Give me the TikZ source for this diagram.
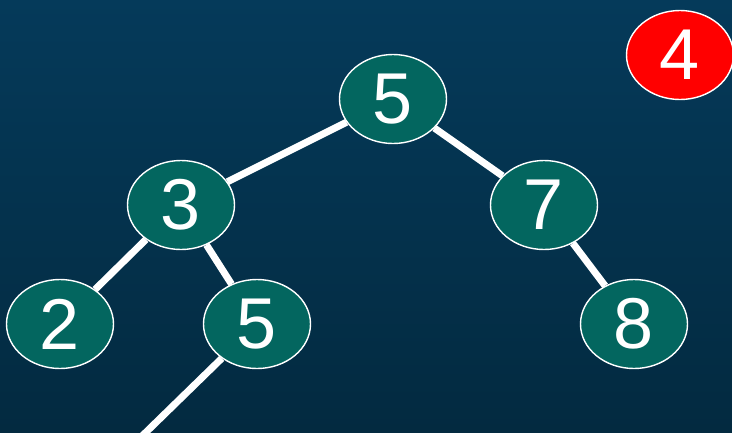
\documentclass[tikz,border=0pt]{standalone}
\usepackage{fontspec}
\setmainfont{Liberation Sans}
\usepackage{xcolor}
\usepackage{tikz}
\usetikzlibrary{positioning,shapes.geometric}
\definecolor{BgTop}{RGB}{5,58,90}
\definecolor{BgBottom}{RGB}{3,42,64}

\begin{document}
\begin{tikzpicture}[x=1pt,y=-1pt]
	\definecolor{bstteal}{RGB}{3,102,95}
	\definecolor{bstred}{RGB}{255,0,0}
	\tikzset{
		bstnode/.style={
			shape=ellipse,
			draw=white,
			line width=1.4pt,
			fill=bstteal,
			minimum width=107pt,
			minimum height=89pt,
			inner sep=0pt,
			font=\fontsize{72}{72}\selectfont,
			text=white
		},
		bsthot/.style={
			bstnode,
			fill=bstred
		},
		bstedge/.style={draw=white, line width=7pt}
	}
	
	% background
	\useasboundingbox (0,0) rectangle (732,432);
	\shade[top color=BgTop, bottom color=BgBottom] (0,0) rectangle (732,432);
	\clip (0,0) rectangle (732,432);
	
	% nodes
	\node[bstnode] (root) at (393,99) {5};
	\node[bstnode] (left) at (181,205) {3};
	\node[bstnode] (right) at (544,205) {7};
	\node[bstnode] (leftleft) at (60,324) {2};
	\node[bstnode] (leftright) at (257,324) {5};
	\node[bstnode] (rightright) at (634,324) {8};
	\node[bsthot] (insert) at (680,55) {4};
	\coordinate (tail) at (138,440);
	
	% edges
	\draw[bstedge] (root) -- (left);
	\draw[bstedge] (root) -- (right);
	\draw[bstedge] (left) -- (leftleft);
	\draw[bstedge] (left) -- (leftright);
	\draw[bstedge] (right) -- (rightright);
	\draw[bstedge] (leftright) -- (tail);
\end{tikzpicture}
\end{document}
